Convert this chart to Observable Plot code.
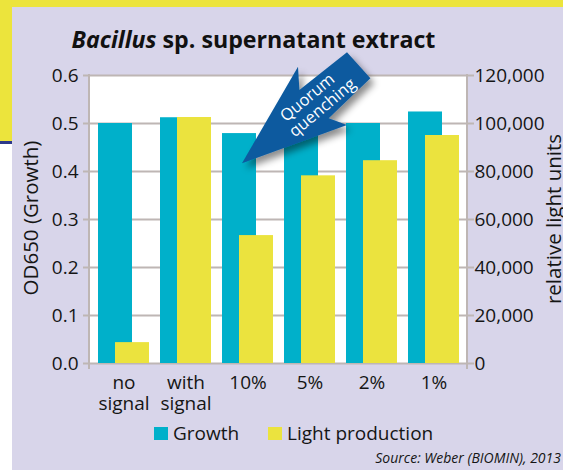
<!DOCTYPE html>
<html><head><meta charset="utf-8">
<script src="https://cdn.jsdelivr.net/npm/d3@7"></script>
<script src="https://cdn.jsdelivr.net/npm/@observablehq/plot@0.6"></script>
<style>
html,body{margin:0;padding:0;background:#fff;}
#wrap{position:relative;width:563px;height:470px;overflow:hidden;}
svg{display:block;}
</style></head><body>
<div id="wrap"></div>
<script>
// ---- data ----
const categories = ["no\nsignal", "with\nsignal", "10%", "5%", "2%", "1%"];
const growth = [0.50, 0.512, 0.479, 0.50, 0.50, 0.524];          // OD650
const lightProduction = [8700, 102500, 53300, 78200, 84500, 95000]; // relative light units
const leftTicks = [0, 0.1, 0.2, 0.3, 0.4, 0.5, 0.6];
const rightTicks = [0, 20000, 40000, 60000, 80000, 100000, 120000];
const seriesNames = ["Growth", "Light production"];
const title = "sp. supernatant extract";
const titleItalic = "Bacillus";
const source = "Source: Weber (BIOMIN), 2013";

// ---- style ----
const CYAN = "#00b0ca", YELLOW = "#ebe33e", LAV = "#d8d5ea", GRID = "#beb6b4";
const NAVY = "#0b5a9f", FONT = "'Open Sans', sans-serif";
const K = 120000 / 0.6; // light units per OD unit (right axis / left axis)

const data = categories.map((c, i) => ({c, growth: growth[i], light: lightProduction[i] / K}));

const plot = Plot.plot({
  width: 563, height: 470,
  marginTop: 75, marginBottom: 107, marginLeft: 89, marginRight: 96,
  style: {background: "transparent", fontFamily: FONT, fontSize: "19px", color: "#151515", overflow: "visible"},
  x: {domain: categories, range: [98, 442], paddingInner: 28 / 62, paddingOuter: 0, round: false, axis: null},
  y: {domain: [0, 0.6], axis: null},
  marks: [
    Plot.frame({fill: "white", stroke: "none"}),
    Plot.ruleY(leftTicks, {stroke: GRID, strokeWidth: 2}),
    Plot.barY(data, {x: "c", y: "growth", fill: CYAN}),
    Plot.barY(data, {x: "c", y: "light", fill: YELLOW, dx: 17}),
    Plot.axisY(leftTicks, {anchor: "left", tickSize: 6, tickPadding: 5, stroke: GRID, strokeWidth: 2, fill: "#151515",
      tickFormat: d3.format(".1f"), label: null, fontSize: 19}),
    Plot.axisY(rightTicks.map(v => v / K), {anchor: "right", tickSize: 6, tickPadding: 1, stroke: GRID, strokeWidth: 2, fill: "#151515",
      tickFormat: d => d3.format(",")(Math.round(d * K)), label: null, fontSize: 19}),
    Plot.text(data, {x: "c", text: "c", frameAnchor: "bottom", dx: 8.5, dy: 11, lineAnchor: "top",
      lineHeight: 1.1, fontSize: 19, fill: "#151515"})
  ]
});

const svg = d3.select(plot);
const xs = plot.scale("x"), ys = plot.scale("y");
const L = 89, R = 467, T = ys.apply(0.6), B = ys.apply(0);

// background decoration (behind everything)
const bg = svg.insert("g", ":first-child");
bg.append("rect").attr("x", 0).attr("y", 0).attr("width", 563).attr("height", 470).attr("fill", LAV);
bg.append("rect").attr("x", 0).attr("y", 0).attr("width", 563).attr("height", 7).attr("fill", "#ece43c");
bg.append("rect").attr("x", 0).attr("y", 0).attr("width", 12).attr("height", 141).attr("fill", "#ece43c");
bg.append("rect").attr("x", 0).attr("y", 141).attr("width", 12).attr("height", 3).attr("fill", "#2d3a8a");
bg.append("rect").attr("x", 0).attr("y", 144).attr("width", 12).attr("height", 326).attr("fill", "#ffffff");

// axis lines (left and right)
const ax = svg.append("g").attr("stroke", GRID).attr("stroke-width", 2);
ax.append("line").attr("x1", L).attr("x2", L).attr("y1", T - 1).attr("y2", B + 6);
ax.append("line").attr("x1", R).attr("x2", R).attr("y1", T - 1).attr("y2", B + 6);

// title
const t = svg.append("text").attr("x", 253.5).attr("y", 48).attr("text-anchor", "middle")
  .attr("font-family", FONT).attr("font-size", 23.2).attr("font-weight", "bold").attr("fill", "#111");
t.append("tspan").attr("font-style", "italic").text(titleItalic);
t.append("tspan").text(" " + title);

// axis titles
svg.append("text").attr("transform", `translate(38,${(T + B) / 2 - 1}) rotate(-90)`).attr("text-anchor", "middle")
  .attr("font-family", FONT).attr("font-size", 20.5).attr("fill", "#151515").text("OD650 (Growth)");
svg.append("text").attr("transform", `translate(561,${(T + B) / 2}) rotate(-90)`).attr("text-anchor", "middle")
  .attr("font-family", FONT).attr("font-size", 20.5).attr("fill", "#151515").text("relative light units");

// legend
const lg = svg.append("g").attr("font-family", FONT).attr("font-size", 19).attr("fill", "#151515")
  .attr("text-anchor", "start");
[[154, CYAN, seriesNames[0]], [268, YELLOW, seriesNames[1]]].forEach(([lx, col, name]) => {
  lg.append("rect").attr("x", lx).attr("y", 427).attr("width", 14).attr("height", 13).attr("fill", col);
  lg.append("text").attr("x", lx + 19).attr("y", 440).attr("text-anchor", "start").text(name);
});

// source
svg.append("text").attr("x", 561).attr("y", 463).attr("text-anchor", "end").attr("font-family", FONT)
  .attr("font-size", 14).attr("font-style", "italic").attr("fill", "#151515").text(source);

// Quorum quenching arrow, anchored on the 10% bar
const tipX = xs.apply("10%") + 20, tipY = ys.apply(0.416);
const defs = svg.append("defs");
const f = defs.append("filter").attr("id", "shadow").attr("x", "-30%").attr("y", "-30%").attr("width", "160%").attr("height", "160%");
f.append("feDropShadow").attr("dx", 4).attr("dy", 5).attr("stdDeviation", 3.5).attr("flood-color", "#000").attr("flood-opacity", 0.45);
const shape = [[0, 0], [56, -96.6], [57.4, -73.3], [105, -111], [128.4, -85], [86.7, -45], [105, -38.3]];
const arrow = svg.append("g").attr("transform", `translate(${tipX},${tipY})`);
arrow.append("path").attr("d", "M" + shape.map(p => p.join(",")).join("L") + "Z")
  .attr("fill", NAVY).attr("filter", "url(#shadow)");
const at = arrow.append("g").attr("font-family", FONT).attr("font-size", 16.5).attr("fill", "white")
  .attr("text-anchor", "middle").attr("dominant-baseline", "middle");
at.append("text").attr("transform", "translate(66,-65) rotate(-40)").text("Quorum");
at.append("text").attr("transform", "translate(81,-55) rotate(-40)").text("quenching");

document.getElementById("wrap").appendChild(plot);
</script>
</body></html>
